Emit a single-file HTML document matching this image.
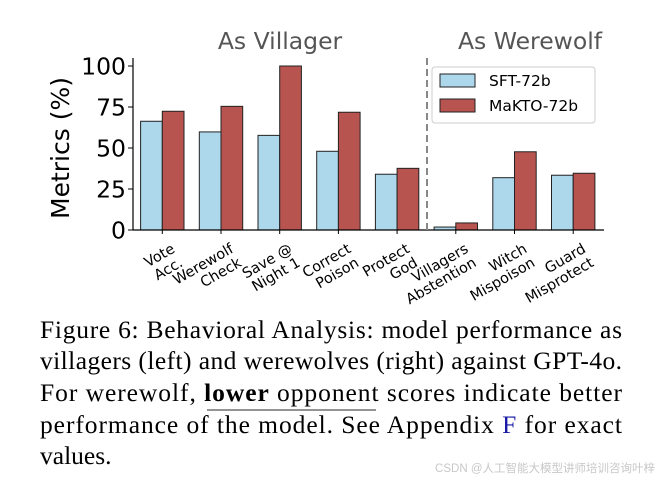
<!DOCTYPE html>
<html><head><meta charset="utf-8"><style>
html,body{margin:0;padding:0;background:#fff}
svg{display:block}
.cap{font-family:"Liberation Serif",serif;font-size:25.5px;fill:#000}
.wm{font-family:"Liberation Sans","Noto Sans CJK SC",sans-serif}
</style></head><body>
<svg id="fig" width="664" height="482" viewBox="0 0 664 482" xmlns="http://www.w3.org/2000/svg">
<g id="chart"></g>
<g class="cap">
<text x="40" y="338" textLength="582" lengthAdjust="spacing">Figure 6: Behavioral Analysis: model performance as</text>
<text x="40" y="369" textLength="582" lengthAdjust="spacing">villagers (left) and werewolves (right) against GPT-4o.</text>
<text x="40" y="401" textLength="582" lengthAdjust="spacing">For werewolf, <tspan font-weight="bold">lower</tspan> opponent scores indicate better</text>
<line x1="207" y1="410" x2="376" y2="410" stroke="#555" stroke-width="1.3"/>
<text x="40" y="433" textLength="582" lengthAdjust="spacing">performance of the model.  See Appendix <tspan fill="#1a1aa6">F</tspan> for exact</text>
<text x="40" y="464">values.</text>
</g>
<text x="655" y="472" text-anchor="end" class="wm" font-size="11.5" fill="#c8c8c8">CSDN @人工智能大模型讲师培训咨询叶梓</text>
</svg>
<script>
const categories=[["Vote","Acc."],["Werewolf","Check"],["Save @","Night 1"],["Correct","Poison"],["Protect","God"],["Villagers","Abstention"],["Witch","Mispoison"],["Guard","Misprotect"]];
const sftValues=[66.3,59.8,57.7,48,34,1.8,31.9,33.4];
const maktoValues=[72.4,75.4,100,71.8,37.6,4.3,47.7,34.6];
const yTicks=[0,25,50,75,100];
const seriesNames=["SFT-72b","MaKTO-72b"];

const NS="http://www.w3.org/2000/svg";
const g=document.getElementById('chart');
const x0=133,x1=604,yBase=230,yTop=66,groupStart=162.3,groupStep=58.7,bw=21.7;
const FF="'DejaVu Sans', sans-serif";
function yScale(v){return yBase-(v/100)*(yBase-yTop);}
function xCenter(i){return groupStart+i*groupStep;}
function mk(tag,attrs,parent){const e=document.createElementNS(NS,tag);for(const k in attrs)e.setAttribute(k,attrs[k]);(parent||g).appendChild(e);return e;}

yTicks.forEach(t=>{
  const y=yScale(t);
  const l=mk('line',{x1:x0-5,x2:x0,y1:y,y2:y,stroke:'#000','stroke-width':1});
  
  
  const tx=mk('text',{x:x0-7,y:y+8.5,'text-anchor':'end','font-family':FF,'font-size':23.5,fill:'#000'});
  tx.textContent=t;
  
  
});
const colors=['#add8ec','#b85450'];
[sftValues,maktoValues].forEach((vals,s)=>{
  vals.forEach((v,i)=>{
    const x=xCenter(i)+(s===0?-bw:0);
    const r=mk('rect',{x:x,y:yScale(v),width:bw,height:yBase-yScale(v),fill:colors[s],stroke:'#222','stroke-width':1});
    
    
  });
});
const ax=mk('line',{x1:x0,x2:x0,y1:58,y2:yBase,stroke:'#000','stroke-width':1.2});


const bx=mk('line',{x1:x0,x2:x1,y1:yBase,y2:yBase,stroke:'#000','stroke-width':1.2});


categories.forEach((c,i)=>{
  const cx=xCenter(i);
  const tk=mk('line',{x1:cx,x2:cx,y1:yBase,y2:yBase+4,stroke:'#000','stroke-width':1});
  
  
  const t=mk('text',{transform:`translate(${cx+8},${yBase+12}) rotate(-30)`,'text-anchor':'end','font-family':FF,'font-size':14.5,fill:'#000'});
  c.forEach((ln,k)=>{const ts=mk('tspan',{x:0,dy:k===0?11:16},t);ts.textContent=ln;});
  
  
});
const dl=mk('line',{x1:427,x2:427,y1:58,y2:yBase,stroke:'#888','stroke-width':2,'stroke-dasharray':'7,4'});


const yt=mk('text',{transform:'translate(69,148) rotate(-90)','text-anchor':'middle','font-family':FF,'font-size':25,fill:'#000'});
yt.textContent='Metrics (%)';


const t1=mk('text',{x:280,y:49,'text-anchor':'middle','font-family':FF,'font-size':23.5,fill:'#555'});
t1.textContent='As Villager';


const t2=mk('text',{x:530,y:49,'text-anchor':'middle','font-family':FF,'font-size':23.5,fill:'#555'});
t2.textContent='As Werewolf';


const lg=mk('g',{});


mk('rect',{x:432,y:67,width:163,height:56,rx:3,fill:'#fff',stroke:'#ccc','stroke-width':1},lg);
seriesNames.forEach((n,k)=>{
  const y=74+k*25;
  const sw=mk('rect',{x:440,y:y,width:35,height:13,fill:colors[k],stroke:'#222','stroke-width':1},lg);
  
  
  const tx=mk('text',{x:489,y:y+12,'font-family':FF,'font-size':15.5,fill:'#000'},lg);
  tx.textContent=n;
  
  
});
</script>
</body></html>
